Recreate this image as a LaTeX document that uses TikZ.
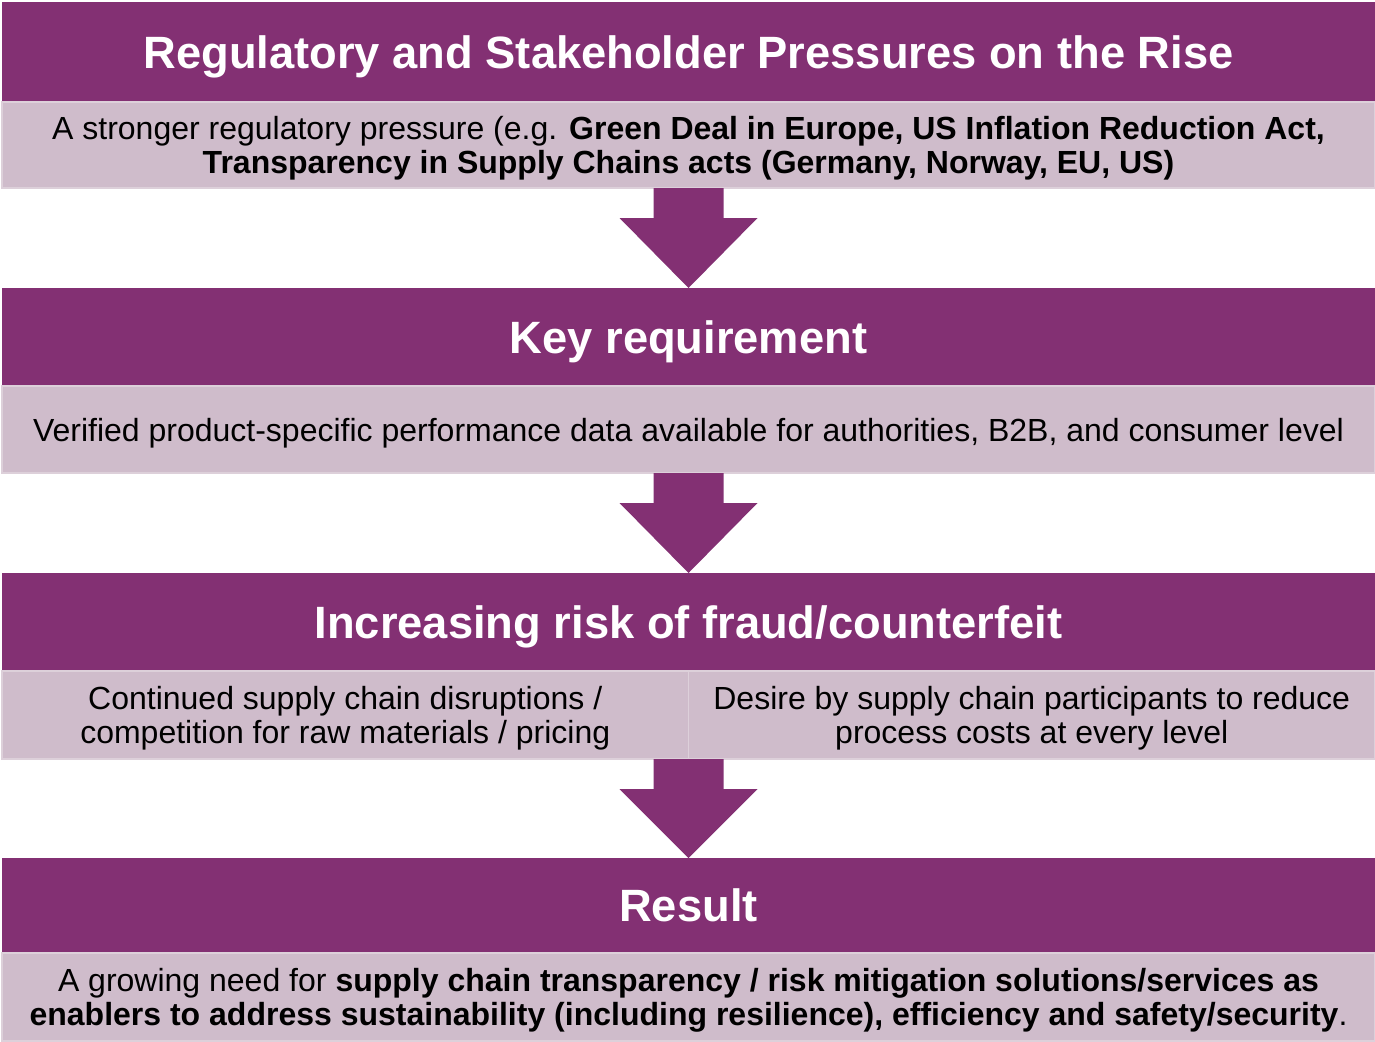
\documentclass[tikz,border=0pt]{standalone}
\usepackage{fontspec}
\setmainfont{Liberation Sans}
\usepackage{tikz}
\usetikzlibrary{positioning}
\usetikzlibrary{calc}
\definecolor{plum}{RGB}{131,48,115}
\definecolor{lilac}{RGB}{207,188,203}
\definecolor{lilacline}{RGB}{221,208,218}

\tikzset{
  headbar/.style={fill=plum, text=white, font=\fontsize{45.3}{50}\selectfont\bfseries,
    minimum width=1373pt, minimum height=98pt, inner sep=0pt, outer sep=0pt, text depth=0pt},
  band/.style={fill=lilac, draw=lilacline, line width=1.5pt, align=center,
    font=\fontsize{32}{34}\selectfont, minimum width=1373pt, minimum height=87pt,
    inner sep=0pt, outer sep=0pt, text depth=0pt},
  halfband/.style={band, minimum width=686.5pt},
}
% block arrow from the band above to the bar below
\newcommand\downblock[2]{%
  \fill[plum] ($(#1.south)+(-35,0)$) -- ($(#1.south)+(35,0)$) -- ($(#1.south)+(35,30)$)
    -- ($(#1.south)+(69,30)$) -- (#2.north) -- ($(#1.south)+(-69,30)$)
    -- ($(#1.south)+(-35,30)$) -- cycle;}

\begin{document}
\begin{tikzpicture}[x=1pt,y=-1pt]
  \def\gap{100pt}
  \useasboundingbox (0,0) rectangle (1375,1041);

  \node[headbar, minimum height=100pt, anchor=north] (reghead) at (688.5,2) {Regulatory and Stakeholder Pressures on the Rise};
  \node[band, minimum height=86pt, below=0pt of reghead] (regband) {A stronger regulatory pressure (e.g. \textbf{Green Deal in Europe, US Inflation Reduction Act,}\\
    \textbf{Transparency in Supply Chains acts (Germany, Norway, EU, US)}};

  \node[headbar, below=\gap of regband] (keyhead) {Key requirement};
  \node[band, below=0pt of keyhead] (keyband) {Verified product-specific performance data available for authorities, B2B, and consumer level};

  \node[headbar, below=\gap of keyband] (riskhead) {Increasing risk of fraud/counterfeit};
  \node[halfband, minimum height=88pt, anchor=north west] (riskleft) at (riskhead.south west) {Continued supply chain disruptions /\\competition for raw materials / pricing};
  \node[halfband, minimum height=88pt, anchor=north west] (riskright) at (riskleft.north east) {Desire by supply chain participants to reduce\\process costs at every level};

  \coordinate (riskband) at (riskleft.south east);
  \node[headbar, minimum height=95pt, below=99pt of riskband] (resulthead) {Result};
  \node[band, minimum height=88pt, below=0pt of resulthead] (resultband) {A growing need for \textbf{supply chain transparency / risk mitigation solutions/services as}\\
    \textbf{enablers to address sustainability (including resilience), efficiency and safety/security}.};

  \downblock{regband}{keyhead}
  \downblock{keyband}{riskhead}
  \downblock{riskband}{resulthead}
\end{tikzpicture}
\end{document}
